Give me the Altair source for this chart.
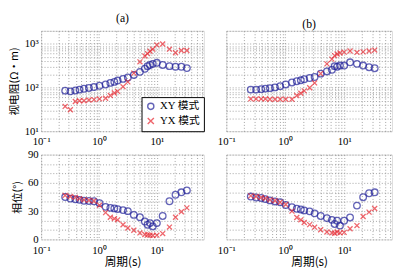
import altair as alt
import pandas as pd

# ---- data ----
periods = [0.26, 0.32, 0.39, 0.46, 0.55, 0.67, 0.82, 1.02, 1.3, 1.57, 1.84, 2.1, 2.6,
           3.15, 4.0, 5.1, 6.2, 6.9, 7.6, 8.5, 10, 12.6, 16.5, 21, 26.5, 33]

rho_a_xy = [85, 82, 86, 90, 94, 98, 103, 110, 118, 128, 135, 145, 158,
            170, 195, 230, 270, 310, 330, 350, 370, 330, 310, 300, 300, 280]
rho_a_yx = [37, 31, 48, 50, 50, 52, 53, 55, 57, 66, 75, 82, 105,
            135, 215, 390, 530, 600, 680, 760, 950, 1000, 760, 630, 710, 710]
rho_b_xy = [90, 90, 92, 95, 97, 101, 108, 118, 131, 140, 147, 155, 166,
            175, 209, 235, 256, 310, 300, 320, 320, 380, 350, 320, 293, 278]
rho_b_yx = [55, 55, 55, 55, 54, 54, 54, 54, 54, 66, 74, 84, 99,
            128, 209, 350, 450, 540, 590, 620, 650, 690, 640, 660, 690, 725]

phs_a_xy = [45, 43.3, 42.6, 42, 41, 40.8, 40.5, 38.5, 34.6, 33.5, 32.9, 32.2, 31.1,
            30, 26, 23.5, 19, 15.6, 17.3, 13.8, 17.3, 24.9, 40.5, 47.4, 50, 52]
phs_a_yx = [46.7, 45.6, 44.6, 43.3, 42, 41.5, 40.8, 36.3, 28.4, 23.5, 22, 20.8, 15.6,
            12.1, 9.7, 6.9, 5.2, 4.8, 4.5, 4.2, 4.5, 6.2, 13.1, 23.5, 29.4, 33.5]
phs_b_xy = [45.5, 44.5, 44, 42.8, 41.4, 40.3, 39.5, 36.5, 34.2, 32.5, 31.8, 30.8, 29.8,
            27.7, 24.9, 22.6, 20.8, 16.4, 19.8, 14.7, 19.8, 23.3, 35.9, 44.8, 49, 50]
phs_b_yx = [46.2, 45.5, 44.5, 43.5, 42, 41, 39.5, 37, 30, 23.3, 20.8, 18, 15.7,
            13, 10.3, 7.9, 6.9, 6.5, 7.9, 6.9, 7.5, 11.3, 14.7, 24.3, 29, 32.8]

modes = ["XY 模式", "YX 模式"]
panel_titles = ["(a)", "(b)"]
x_title = "周期(s)"
rho_title = "视电阻(Ω·m)"
phs_title = "相位(°)"

x_ticks = [0.1, 0.2, 0.3, 0.4, 0.5, 0.6, 0.7, 0.8, 0.9,
           1, 2, 3, 4, 5, 6, 7, 8, 9, 10, 20, 30, 40, 50, 60]
rho_ticks = [10, 20, 30, 40, 50, 60, 70, 80, 90, 100, 200, 300, 400, 500,
             600, 700, 800, 900, 1000, 2000]
phs_ticks = [0, 10, 20, 30, 40, 50, 60, 70, 80, 90]

SERIF = "Liberation Serif, Noto Sans CJK SC"
CJK = "Noto Sans CJK SC"
BLUE = "#23239a"
RED = "#e8262f"
XPATH = "M-1,-1L1,1M-1,1L1,-1"


def long_df(xy, yx):
    n = len(periods)
    return pd.DataFrame({
        "period": periods + periods,
        "value": xy + yx,
        "mode": [modes[0]] * n + [modes[1]] * n,
    })


x_label_expr = ("datum.value == 0.1 ? '10⁻¹' : datum.value == 1 ? '10⁰' : "
                "datum.value == 10 ? '10¹' : ''")
rho_label_expr = ("datum.value == 10 ? '10¹' : datum.value == 100 ? '10²' : "
                  "datum.value == 1000 ? '10³' : ''")
phs_label_expr = "datum.value % 30 == 0 ? datum.label : ''"

grid_kw = dict(grid=True, gridDash=[1, 2], gridColor="#8a8a8a", gridWidth=0.8,
               domain=False, ticks=False, labelOverlap=False, labelFlush=False,
               labelFont=SERIF, labelFontSize=11, labelColor="black")


def panel(df, kind, col, W, H):
    xdom = [0.1, 65]
    x_axis = alt.Axis(values=x_ticks, labelExpr=x_label_expr,
                      title=x_title if kind == "phs" else None,
                      titleFont=CJK, titleFontSize=12, titleFontWeight="normal",
                      titlePadding=2, labelPadding=5, **grid_kw)
    if kind == "rho":
        yscale = alt.Scale(type="log", domain=[10, 2000], nice=False)
        yvals, yexpr, ytitle = rho_ticks, rho_label_expr, rho_title
    else:
        yscale = alt.Scale(domain=[0, 90], nice=False)
        yvals, yexpr, ytitle = phs_ticks, phs_label_expr, phs_title
    if col == 0:
        y_axis = alt.Axis(values=yvals, labelExpr=yexpr, title=ytitle,
                          titleFont=CJK, titleFontSize=11, titleFontWeight="normal",
                          titlePadding=5, labelPadding=3, **grid_kw)
    else:
        y_axis = alt.Axis(values=yvals, labels=False, title=None, **grid_kw)

    show_legend = (kind == "rho" and col == 0)
    legend = alt.Legend(orient="bottom-right", title=None, offset=0,
                        strokeColor="black", fillColor="white", padding=4,
                        rowPadding=2, labelFont=SERIF, labelFontSize=11,
                        symbolSize=40, symbolStrokeWidth=1.4,
                        labelColor="black") if show_legend else None

    ch = alt.Chart(df).mark_point(filled=False, strokeWidth=1.3).encode(
        x=alt.X("period:Q", scale=alt.Scale(type="log", domain=xdom, nice=False),
                axis=x_axis),
        y=alt.Y("value:Q", scale=yscale, axis=y_axis),
        color=alt.Color("mode:N", scale=alt.Scale(domain=modes, range=[BLUE, RED]),
                        legend=legend),
        shape=alt.Shape("mode:N", scale=alt.Scale(domain=modes, range=["circle", XPATH]),
                        legend=legend),
        size=alt.Size("mode:N", scale=alt.Scale(domain=modes, range=[46, 26]),
                      legend=None),
    ).properties(width=W, height=H)
    if kind == "rho":
        ch = ch.properties(title=alt.TitleParams(panel_titles[col], font=SERIF,
                                                 fontSize=12, fontWeight="normal",
                                                 offset=0))
    return ch


a = panel(long_df(rho_a_xy, rho_a_yx), "rho", 0, 167, 103)
b = panel(long_df(rho_b_xy, rho_b_yx), "rho", 1, 170, 103)
c = panel(long_df(phs_a_xy, phs_a_yx), "phs", 0, 167, 87)
d = panel(long_df(phs_b_xy, phs_b_yx), "phs", 1, 170, 87)

top = alt.hconcat(a, b, spacing=12).resolve_legend(color="independent", shape="independent")
bottom = alt.hconcat(c, d, spacing=12).resolve_legend(color="independent", shape="independent")

chart = alt.vconcat(top, bottom, spacing=0).resolve_legend(
    color="independent", shape="independent"
).configure_view(stroke="black", strokeWidth=1).configure(
    background="white", padding=0
)

chart.save("out.html", embed_options={"renderer": "svg", "actions": False})
